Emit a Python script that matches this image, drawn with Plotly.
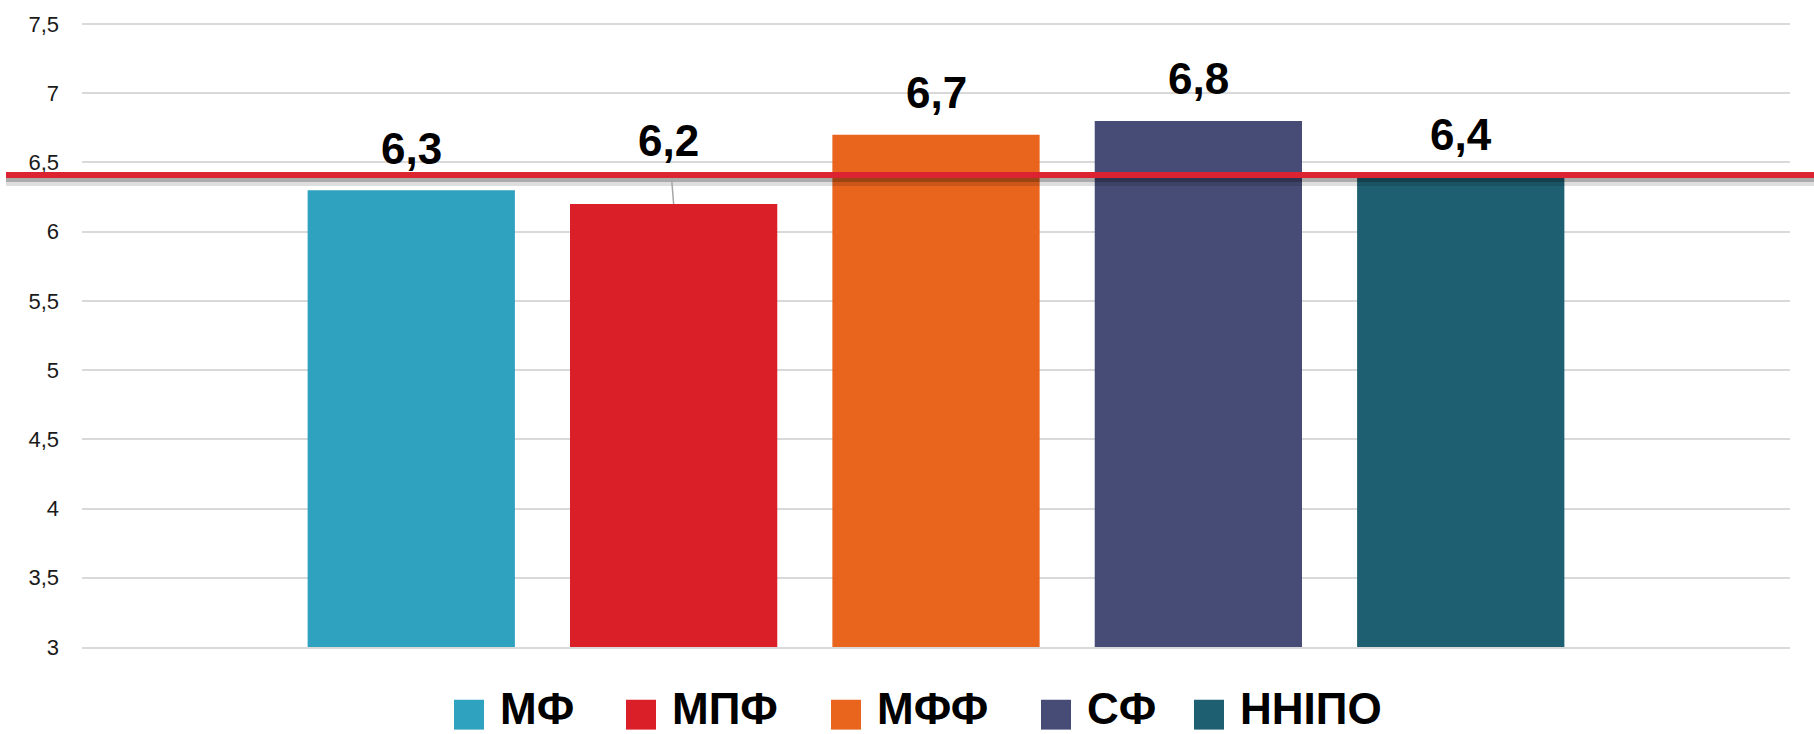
import plotly.graph_objects as go

# ---- data ----
categories = ["МФ", "МПФ", "МФФ", "СФ", "ННІПО"]
values = [6.3, 6.2, 6.7, 6.8, 6.4]
colors = ["#2EA2BF", "#DA1F29", "#E9641D", "#474C77", "#1E6072"]
ref_value = 6.41
y_ticks = [3, 3.5, 4, 4.5, 5, 5.5, 6, 6.5, 7, 7.5]
y_tick_labels = ["3", "3,5", "4", "4,5", "5", "5,5", "6", "6,5", "7", "7,5"]

# ---- layout constants ----
W, H = 1814, 734
L, R, T, B = 82, 24, 19, 87
PW, PH = W - L - R, H - T - B
Y_MIN, Y_MAX = 3, 7.5 + 2 * 4.5 / 626  # 2px headroom so the top gridline shows
FONT = "Liberation Sans, Arial, sans-serif"
LEGEND_X = [454, 626, 831, 1041, 1194]  # legend square left edges (px)


def px_x(px):
    return (px - L) / PW


def px_y(py):
    return (H - B - py) / PH


def fmt(v):
    return f"{v:.1f}".replace(".", ",")


fig = go.Figure()
for c, v, col in zip(categories, values, colors):
    fig.add_trace(go.Bar(x=[c], y=[v], name=c, width=0.79,
                         marker=dict(color=col, line=dict(width=0)),
                         showlegend=False))

shapes = []
# shadow under reference line
shapes.append(dict(type="rect", xref="paper", yref="y", ysizemode="pixel", yanchor=ref_value,
                   x0=px_x(6), x1=px_x(W), y0=-3, y1=-7,
                   fillcolor="rgba(0,0,0,0.33)", line=dict(width=0), layer="above"))
shapes.append(dict(type="rect", xref="paper", yref="y", ysizemode="pixel", yanchor=ref_value,
                   x0=px_x(6), x1=px_x(W), y0=-7, y1=-11,
                   fillcolor="rgba(0,0,0,0.13)", line=dict(width=0), layer="above"))
# reference line
shapes.append(dict(type="line", xref="paper", yref="y",
                   x0=px_x(6), x1=px_x(W), y0=ref_value, y1=ref_value,
                   line=dict(color="#DC2332", width=6), layer="above"))

LABEL_FONT = dict(family=FONT, size=44, color="black", weight="bold")
annotations = []
for c, v in zip(categories, values):
    if v < ref_value - 0.15:
        annotations.append(dict(x=c, y=v, xref="x", yref="y", text=fmt(v),
                                showarrow=True, arrowhead=0, arrowwidth=1.5,
                                arrowcolor="#A6A6A6", ax=-5, ay=-63,
                                startstandoff=12, font=LABEL_FONT))
    else:
        annotations.append(dict(x=c, y=v, xref="x", yref="y", text=fmt(v),
                                showarrow=False, yanchor="middle", yshift=42,
                                font=LABEL_FONT))

# custom legend
for c, col, lx in zip(categories, colors, LEGEND_X):
    shapes.append(dict(type="rect", xref="paper", yref="paper",
                       x0=px_x(lx), x1=px_x(lx + 30), y0=px_y(730), y1=px_y(700),
                       fillcolor=col, line=dict(width=0)))
    annotations.append(dict(x=px_x(lx + 44), y=px_y(709), xref="paper", yref="paper",
                            xanchor="left", yanchor="middle", showarrow=False, text=c,
                            font=dict(family=FONT, size=44, color="black", weight="bold")))

fig.update_layout(
    width=W, height=H,
    margin=dict(l=L, r=R, t=T, b=B, pad=0),
    paper_bgcolor="white", plot_bgcolor="white",
    barmode="overlay",
    showlegend=False,
    shapes=shapes,
    annotations=annotations,
    xaxis=dict(type="category", categoryorder="array", categoryarray=categories,
               range=[-1.255, 4 + 1.255], showticklabels=False, showgrid=False,
               zeroline=False, showline=True, linecolor="#D9D9D9", linewidth=1.5,
               ticks=""),
    yaxis=dict(range=[Y_MIN, Y_MAX], tickvals=y_ticks, ticktext=y_tick_labels,
               showgrid=True, gridcolor="#D9D9D9", gridwidth=1.5,
               zeroline=False, showline=False, ticks="",
               ticklabelstandoff=22,
               tickfont=dict(family=FONT, size=22, color="#1A1A1A")),
)

fig.write_html("out.html", config={"displayModeBar": False},
               post_script="document.body.style.margin='0';document.body.style.overflow='hidden';")
